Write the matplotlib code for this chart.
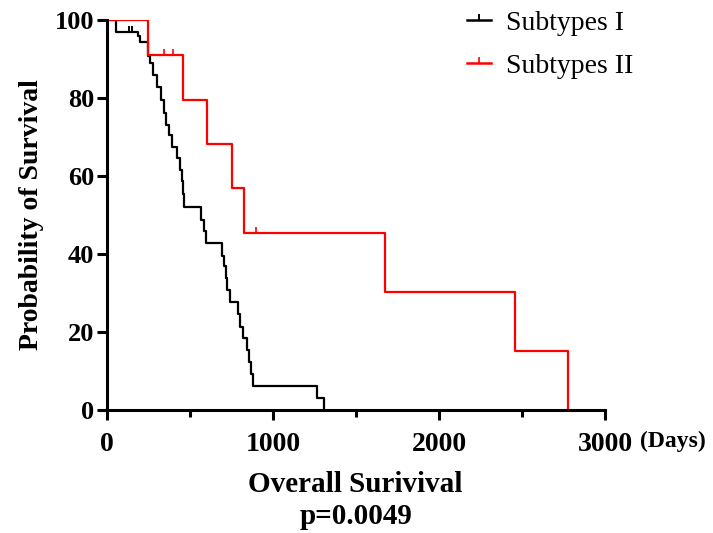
import numpy as np
import matplotlib
matplotlib.use("Agg")
import matplotlib.pyplot as plt
from matplotlib.ticker import MultipleLocator

plt.rcParams['font.family'] = ['Liberation Serif', 'DejaVu Serif']

# Subtypes I: times (days) where the curve steps down, survival (%) after each step
t1 = [0, 52, 185, 199, 247, 259, 279, 299, 325, 343, 355, 374, 392, 422, 440, 450,
      458, 466, 566, 586, 596, 694, 705, 717, 725, 741, 791, 801, 821, 842, 855,
      867, 881, 1263, 1307]
s1 = [100, 97.0, 96.0, 94.4, 90.8, 89.0, 85.9, 82.7, 79.5, 76.2, 73.1, 70.4, 67.5,
      64.6, 61.5, 58.7, 55.4, 52.1, 48.7, 46.0, 42.9, 39.6, 37.0, 33.8, 30.8, 27.8,
      24.6, 21.4, 18.4, 15.4, 12.4, 9.2, 6.1, 3.0, 0]
cens1_t = [38, 134, 149]
cens1_s = [100, 97.0, 97.0]

# Subtypes II
t2 = [0, 245, 456, 604, 755, 825, 1677, 2455, 2780]
s2 = [100, 90.9, 79.5, 68.2, 56.8, 45.45, 30.3, 15.15, 0]
cens2_t = [343, 398, 900]
cens2_s = [90.9, 90.9, 45.45]

tick_mark = [(0, 0), (0, 1)]

fig = plt.figure(figsize=(7.13, 5.33), dpi=100)
ax = fig.add_axes([0.150, 0.2308, 0.6985, 0.7317])

ax.step(t1, s1, where='post', color='black', lw=1.6)
ax.step(t2, s2, where='post', color='red', lw=1.6)
ax.plot(cens1_t, cens1_s, ls='none', marker=tick_mark, ms=9, mew=1.4,
        color='black')
ax.plot(cens2_t, cens2_s, ls='none', marker=tick_mark, ms=9, mew=1.2,
        color='red')

# legend proxies
h1, = ax.plot([], [], color='black', lw=1.8, marker=tick_mark, ms=9, mew=1.4)
h2, = ax.plot([], [], color='red', lw=1.8, marker=tick_mark, ms=9, mew=1.2)
leg = ax.legend([h1, h2], ['Subtypes I', 'Subtypes II'], loc='upper left',
                bbox_to_anchor=(0.636, 1.007), bbox_transform=fig.transFigure,
                borderpad=0, frameon=False, fontsize=20,
                handlelength=0.85, handletextpad=0.55, labelspacing=0.65)

ax.set_xlim(0, 3000)
ax.set_ylim(0, 100)
ax.xaxis.set_major_locator(MultipleLocator(1000))
ax.xaxis.set_minor_locator(MultipleLocator(500))
ax.yaxis.set_major_locator(MultipleLocator(20))

for sp in ['top', 'right']:
    ax.spines[sp].set_visible(False)
for sp in ['left', 'bottom']:
    ax.spines[sp].set_linewidth(2.2)

ax.tick_params(which='major', length=7, width=2.2, direction='out')
ax.tick_params(which='minor', length=5, width=2.2, direction='out')
ax.tick_params(axis='x', labelsize=20, pad=9)
ax.tick_params(axis='y', labelsize=19, pad=2)
for lab in ax.get_xticklabels() + ax.get_yticklabels():
    lab.set_fontweight('bold')

ax.set_ylabel('Probability of Survival', fontsize=20, fontweight='bold',
              labelpad=8)
fig.text(0.498, 1 - 485 / 533, 'Overall Surivival', ha='center', va='center',
         fontsize=21, fontweight='bold')
fig.text(0.499, 1 - 517 / 533, 'p=0.0049', ha='center', va='center',
         fontsize=21, fontweight='bold')
fig.text(640 / 713, 1 - 441 / 533, '(Days)', ha='left', va='center',
         fontsize=17, fontweight='bold')

fig.savefig('out.png', dpi=100)
